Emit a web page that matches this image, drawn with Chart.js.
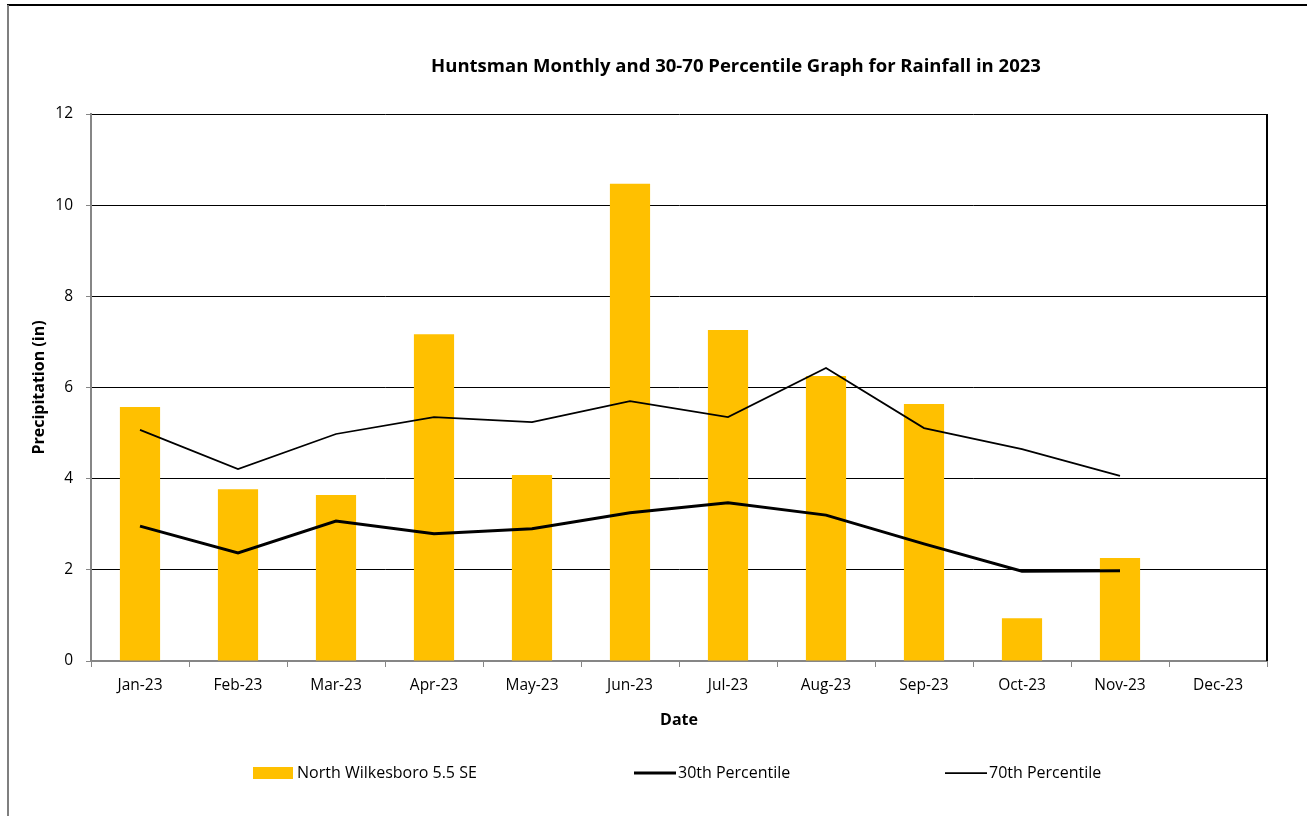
<!DOCTYPE html>
<html>
<head>
<meta charset="utf-8">
<script src="https://cdn.jsdelivr.net/npm/chart.js@4/dist/chart.umd.min.js"></script>
<style>
  body { margin: 0; background: #fff; }
  canvas { display: block; }
</style>
</head>
<body>
<canvas id="rain" width="1312" height="816"></canvas>
<script>
const months = ['Jan-23', 'Feb-23', 'Mar-23', 'Apr-23', 'May-23', 'Jun-23',
    'Jul-23', 'Aug-23', 'Sep-23', 'Oct-23', 'Nov-23', 'Dec-23'];
const rainfall = [5.57, 3.77, 3.64, 7.17, 4.08, 10.47, 7.26, 6.25, 5.64, 0.94, 2.26, null];
const pct30 = [2.96, 2.37, 3.07, 2.79, 2.90, 3.25, 3.47, 3.20, 2.57, 1.97, 1.98, null];
const pct70 = [5.07, 4.21, 4.98, 5.35, 5.24, 5.70, 5.35, 6.43, 5.11, 4.65, 4.06, null];
const yTicks = [0, 2, 4, 6, 8, 10, 12];

const TITLE = 'Huntsman Monthly and 30-70 Percentile Graph for Rainfall in 2023';
const FONT = '"Open Sans", Lato, sans-serif';
const GOLD = '#FFC000';
const AXIS_GREY = '#868686';

// outer frame, chart title, right border of the plot and the legend row
const decor = {
    id: 'decor',
    beforeDraw(chart) {
        const { ctx } = chart;
        ctx.save();
        ctx.fillStyle = '#fff';
        ctx.fillRect(0, 0, chart.width, chart.height);
        ctx.lineWidth = 2;
        ctx.strokeStyle = '#000';
        ctx.beginPath();
        ctx.moveTo(7, 5);
        ctx.lineTo(1307, 5);
        ctx.stroke();
        ctx.strokeStyle = '#7f7f7f';
        ctx.beginPath();
        ctx.moveTo(8, 5);
        ctx.lineTo(8, chart.height);
        ctx.stroke();

        ctx.fillStyle = '#000';
        ctx.font = 'bold 18.5px ' + FONT;
        ctx.textAlign = 'center';
        ctx.textBaseline = 'middle';
        ctx.fillText(TITLE, 736, 67);
        ctx.restore();
    },
    afterDraw(chart) {
        const { ctx, chartArea: a } = chart;
        ctx.save();
        ctx.strokeStyle = '#000';
        ctx.lineWidth = 2;
        ctx.beginPath();
        ctx.moveTo(a.right, a.top);
        ctx.lineTo(a.right, a.bottom);
        ctx.stroke();

        const slots = [253, 634, 945];
        const y = 773;
        ctx.font = '16px ' + FONT;
        ctx.textBaseline = 'middle';
        chart.data.datasets.forEach((ds, i) => {
            const x = slots[i];
            if (ds.type === 'bar') {
                ctx.fillStyle = ds.backgroundColor;
                ctx.fillRect(x, y - 6, 40, 12);
            } else {
                ctx.strokeStyle = ds.borderColor;
                ctx.lineWidth = ds.borderWidth;
                ctx.beginPath();
                ctx.moveTo(x, y);
                ctx.lineTo(x + 42, y);
                ctx.stroke();
            }
            ctx.fillStyle = '#000';
            ctx.fillText(ds.label, x + 44, y);
        });
        ctx.restore();
    },
};

new Chart(document.getElementById('rain'), {
    type: 'bar',
    data: {
        labels: months,
        datasets: [
            {
                type: 'bar',
                label: 'North Wilkesboro 5.5 SE',
                data: rainfall,
                backgroundColor: GOLD,
                barPercentage: 0.41,
                categoryPercentage: 1,
                order: 3,
            },
            {
                type: 'line',
                label: '30th Percentile',
                data: pct30,
                borderColor: '#000',
                borderWidth: 3,
                pointRadius: 0,
                tension: 0,
                order: 1,
            },
            {
                type: 'line',
                label: '70th Percentile',
                data: pct70,
                borderColor: '#000',
                borderWidth: 1.75,
                pointRadius: 0,
                tension: 0,
                order: 2,
            },
        ],
    },
    options: {
        responsive: false,
        animation: false,
        layout: { padding: { left: 0, right: 45, top: 114, bottom: 0 } },
        plugins: {
            legend: { display: false },
            tooltip: { enabled: false },
            title: { display: false },
        },
        scales: {
            x: {
                grid: {
                    drawOnChartArea: false,
                    drawTicks: true,
                    tickLength: 6,
                    tickColor: AXIS_GREY,
                },
                border: { color: AXIS_GREY, width: 2 },
                ticks: {
                    color: '#000',
                    padding: 9,
                    maxRotation: 0,
                    font: { family: FONT, size: 15.5 },
                },
                title: {
                    display: true,
                    text: 'Date',
                    color: '#000',
                    font: { family: FONT, size: 16, weight: 'bold', lineHeight: 1.2 },
                    padding: { top: 0, bottom: 86 },
                },
                afterFit(scale) { scale.height = 155; },
            },
            y: {
                min: 0,
                max: 12,
                afterBuildTicks(scale) {
                    scale.ticks = yTicks.map(v => ({ value: v }));
                },
                grid: {
                    color: '#000',
                    lineWidth: 1,
                    tickLength: 5,
                    tickColor: AXIS_GREY,
                },
                border: { color: AXIS_GREY, width: 2 },
                ticks: {
                    color: '#000',
                    padding: 13,
                    font: { family: FONT, size: 15.5 },
                },
                title: {
                    display: true,
                    text: 'Precipitation (in)',
                    color: '#000',
                    font: { family: FONT, size: 16, weight: 'bold', lineHeight: 1.2 },
                    padding: { top: 30, bottom: 0 },
                },
                afterFit(scale) { scale.width = 91; },
            },
        },
    },
    plugins: [decor],
});
</script>
</body>
</html>
